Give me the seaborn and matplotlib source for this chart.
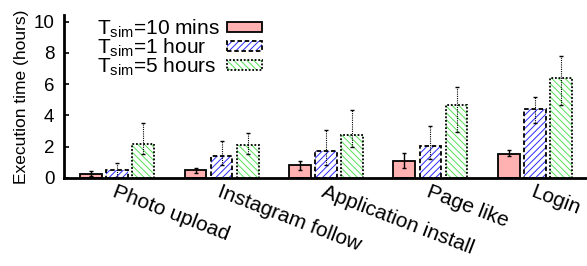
import numpy as np
import pandas as pd
import matplotlib
matplotlib.use("Agg")
import matplotlib.pyplot as plt
from matplotlib.patches import Patch
import seaborn as sns

# data
tasks = ["Photo upload", "Instagram follow", "Application install", "Page like", "Login"]
series = [r"T$_{\mathrm{sim}}$=10 mins", r"T$_{\mathrm{sim}}$=1 hour", r"T$_{\mathrm{sim}}$=5 hours"]
t10m = [0.28, 0.51, 0.83, 1.07, 1.56]
t1h = [0.49, 1.41, 1.73, 2.07, 4.44]
t5h = [2.17, 2.10, 2.76, 4.68, 6.39]
# error bar ends (low, high)
t10m_lo = [0.13, 0.33, 0.50, 0.62, 1.41]
t10m_hi = [0.43, 0.66, 1.10, 1.62, 1.79]
t1h_lo = [0.05, 0.86, 0.83, 1.20, 3.54]
t1h_hi = [0.96, 2.37, 3.07, 3.33, 5.19]
t5h_lo = [1.52, 1.53, 2.00, 2.97, 4.68]
t5h_hi = [3.54, 2.87, 4.34, 5.79, 7.78]

plt.rcParams['font.family'] = ['Liberation Sans', 'DejaVu Sans']
plt.rcParams['mathtext.fontset'] = 'custom'
plt.rcParams['mathtext.rm'] = 'Liberation Sans'
plt.rcParams['hatch.linewidth'] = 0.7

df = pd.DataFrame({
    "task": tasks * 3,
    "series": [series[0]] * 5 + [series[1]] * 5 + [series[2]] * 5,
    "hours": t10m + t1h + t5h,
})

fig = plt.figure(figsize=(5.87, 2.66), dpi=100)
ax = fig.add_axes([0.109, 0.331, 0.891, 0.613])

sns.barplot(data=df, x="task", y="hours", hue="series", order=tasks, hue_order=series,
            width=0.75, gap=0.17, errorbar=None, ax=ax,
            palette=["#ffb0b0", "white", "white"])

styles = [
    dict(face="#ffb0b0", hatch=None, hcol=None, ls="-"),
    dict(face="white", hatch="/////", hcol="#2a2aff", ls=(0, (2.5, 1.5))),
    dict(face="white", hatch="\\\\\\\\\\", hcol="#55e055", ls=(0, (1, 1))),
]
lows = [t10m_lo, t1h_lo, t5h_lo]
highs = [t10m_hi, t1h_hi, t5h_hi]
vals = [t10m, t1h, t5h]

bar_containers = list(ax.containers)
for k, cont in enumerate(bar_containers):
    st = styles[k]
    xs = []
    for p in cont.patches:
        xs.append(p.get_x() + p.get_width() / 2)
        if st["hatch"]:
            p.set_facecolor("white")
            p.set_edgecolor(st["hcol"])
            p.set_hatch(st["hatch"])
            p.set_linewidth(0)
            outline = plt.Rectangle((p.get_x(), p.get_y()), p.get_width(), p.get_height(),
                                    fill=False, edgecolor="black", linewidth=1.3,
                                    linestyle=st["ls"], zorder=p.get_zorder() + 0.1)
            ax.add_patch(outline)
        else:
            p.set_facecolor(st["face"])
            p.set_edgecolor("black")
            p.set_linewidth(1.3)
    v = np.array(vals[k])
    yerr = [v - np.array(lows[k]), np.array(highs[k]) - v]
    eb = ax.errorbar(xs, v, yerr=yerr, fmt="none", ecolor="black",
                     elinewidth=1.0 if k == 0 else 0.8, capsize=1.6, capthick=1.0, zorder=5)
    if k > 0:
        for lc in eb[2]:
            lc.set_linestyle((0, (1, 1)))

# legend: text on the left, boxes on the right
handles = []
for st in styles:
    if st["hatch"]:
        handles.append((Patch(facecolor="white", edgecolor=st["hcol"], hatch=st["hatch"], linewidth=0),
                        Patch(fill=False, edgecolor="black", linewidth=1.3, linestyle=st["ls"])))
    else:
        handles.append(Patch(facecolor=st["face"], edgecolor="black", linewidth=1.3))
leg = ax.legend(handles, series, loc="upper left", bbox_to_anchor=(0.063, 0.985),
                frameon=False, markerfirst=False, fontsize=15, handlelength=1.68,
                handleheight=0.38, handletextpad=0.35, labelspacing=-0.17, borderpad=0,
                borderaxespad=0)

# left-align the label texts, keep boxes lined up on the right
fig.canvas.draw()
rend = fig.canvas.get_renderer()
col = leg._legend_handle_box.get_children()[0]
col.align = "left"
items = col.get_children()
tw = [it.get_children()[0].get_bbox(rend).width for it in items]
dpicor = rend.points_to_pixels(1.0)
for it, w in zip(items, tw):
    it.sep += (max(tw) - w) / dpicor

ax.set_xlim(-0.51, 4.5)
ax.set_ylim(0, 10.43)
ax.set_yticks(np.arange(0, 11, 2))
ax.set_xlabel("")
ax.set_ylabel("Execution time (hours)", fontsize=12.5, labelpad=3)
ax.tick_params(axis="y", labelsize=13.5, direction="in", length=3.5, width=1.2, pad=7)
ax.tick_params(axis="x", length=0, labelsize=15, pad=3)
plt.setp(ax.get_xticklabels(), rotation=-21, ha="left", rotation_mode="anchor")
for s in ["top", "right"]:
    ax.spines[s].set_visible(False)
for s in ["left", "bottom"]:
    ax.spines[s].set_linewidth(2)

fig.savefig("out.png", dpi=100)
